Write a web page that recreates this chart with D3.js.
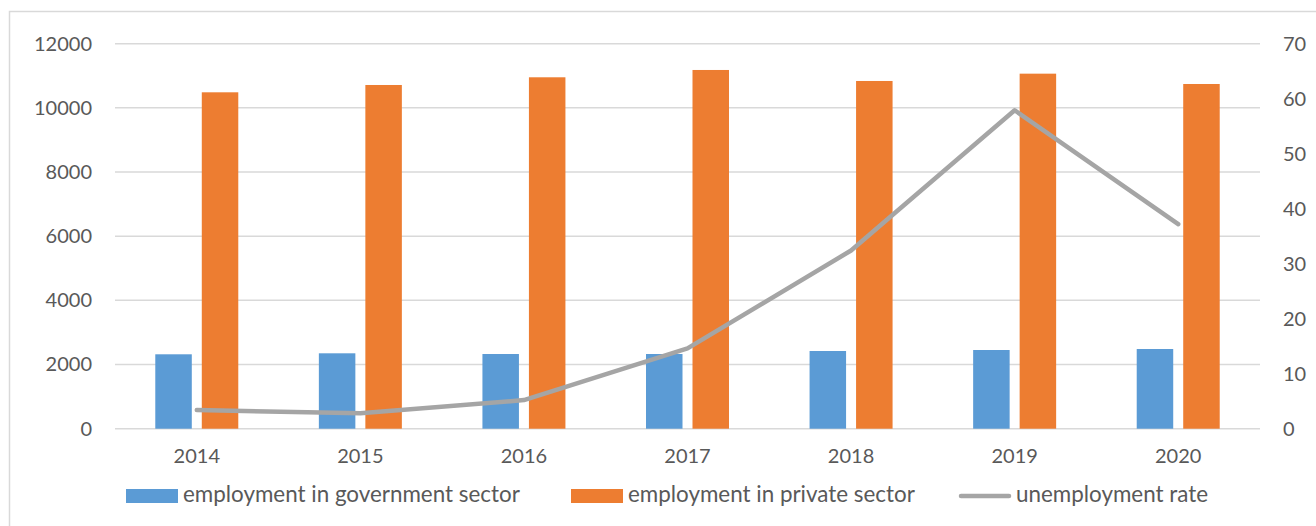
<!DOCTYPE html>
<html>
<head>
<meta charset="utf-8">
<script src="https://cdn.jsdelivr.net/npm/d3@7"></script>
<style>
    body { margin: 0; background: #fff; }
    text { font-family: Lato, "Open Sans", sans-serif; fill: #595959; }
</style>
</head>
<body>
<svg width="1316" height="526"></svg>
<script>
const years = ["2014", "2015", "2016", "2017", "2018", "2019", "2020"]
const gov_sector = [2319, 2350, 2328, 2328, 2422, 2453, 2484]
const private_sector = [10485, 10713, 10953, 11181, 10838, 11066, 10744]
const unemployment_rate = [3.4, 2.8, 5.2, 14.6, 32.4, 57.9, 37.2]
const left_ticks = [0, 2000, 4000, 6000, 8000, 10000, 12000]
const right_ticks = [0, 10, 20, 30, 40, 50, 60, 70]

const series_names = ["employment in government sector", "employment in private sector", "unemployment rate"]
const colors = ["#5b9bd5", "#ed7d31", "#a5a5a5"]

const plot_left = 115
const plot_right = 1260
const plot_top = 43.7
const plot_bottom = 428.7
const font_size = 20
const legend_font_size = 22.4

var svg = d3.select("svg")

// outer chart border
svg.append("rect")
    .attr("x", 9.5)
    .attr("y", 11.5)
    .attr("width", 1400)
    .attr("height", 600)
    .attr("fill", "none")
    .attr("stroke", "#d9d9d9")
    .attr("stroke-width", 1.5)

const x0 = d3.scaleBand().domain(years).range([plot_left, plot_right])
const half = 41.5
const x1 = d3.scaleBand().domain(["gov", "private"]).range([0, 2 * half]).paddingInner(0.215)
const y_left = d3.scaleLinear().domain([0, 12000]).range([plot_bottom, plot_top])
const y_right = d3.scaleLinear().domain([0, 70]).range([plot_bottom, plot_top])

const center = year => x0(year) + x0.bandwidth() / 2

// gridlines
svg.append("g")
    .selectAll("line")
    .data(left_ticks)
    .enter()
    .append("line")
    .attr("x1", plot_left)
    .attr("x2", plot_right)
    .attr("y1", d => y_left(d))
    .attr("y2", d => y_left(d))
    .attr("stroke", "#d9d9d9")
    .attr("stroke-width", 1.5)

// left axis labels
svg.append("g")
    .attr("transform", `translate(${plot_left},0)`)
    .call(d3.axisLeft(y_left).tickValues(left_ticks).tickSize(0).tickPadding(23).tickFormat(d3.format("d")))
    .call(g => g.select(".domain").remove())
    .selectAll("text")
    .attr("font-size", font_size)
    .attr("font-family", "Lato")
    .attr("fill", "#595959")

// right axis labels
svg.append("g")
    .attr("transform", `translate(${plot_right},0)`)
    .call(d3.axisRight(y_right).tickValues(right_ticks).tickSize(0).tickPadding(23))
    .call(g => g.select(".domain").remove())
    .selectAll("text")
    .attr("font-size", font_size)
    .attr("font-family", "Lato")
    .attr("fill", "#595959")

// x axis labels
svg.append("g")
    .attr("transform", `translate(0,${plot_bottom})`)
    .call(d3.axisBottom(x0).tickSize(0).tickPadding(20))
    .call(g => g.select(".domain").remove())
    .selectAll("text")
    .attr("font-size", font_size)
    .attr("font-family", "Lato")
    .attr("fill", "#595959")

// bars
const bars = svg.append("g")
bars.selectAll("rect.gov")
    .data(years)
    .enter()
    .append("rect")
    .attr("class", "gov")
    .attr("x", (d, i) => center(d) - half + x1("gov"))
    .attr("width", x1.bandwidth())
    .attr("y", (d, i) => y_left(gov_sector[i]))
    .attr("height", (d, i) => plot_bottom - y_left(gov_sector[i]))
    .attr("fill", colors[0])

bars.selectAll("rect.private")
    .data(years)
    .enter()
    .append("rect")
    .attr("class", "private")
    .attr("x", (d, i) => center(d) - half + x1("private"))
    .attr("width", x1.bandwidth())
    .attr("y", (d, i) => y_left(private_sector[i]))
    .attr("height", (d, i) => plot_bottom - y_left(private_sector[i]))
    .attr("fill", colors[1])

// unemployment line
const line = d3.line()
    .x((d, i) => center(years[i]))
    .y(d => y_right(d))

svg.append("path")
    .datum(unemployment_rate)
    .attr("d", line)
    .attr("fill", "none")
    .attr("stroke", colors[2])
    .attr("stroke-width", 4.5)
    .attr("stroke-linecap", "round")
    .attr("stroke-linejoin", "round")

// legend
const legend_x = [126, 571, 959]
const legend = svg.append("g")
legend_x.forEach((lx, i) => {
    if (i < 2) {
        legend.append("rect")
            .attr("x", lx)
            .attr("y", 489)
            .attr("width", 52)
            .attr("height", 14)
            .attr("fill", colors[i])
    } else {
        legend.append("line")
            .attr("x1", lx + 2)
            .attr("x2", lx + 50)
            .attr("y1", 496)
            .attr("y2", 496)
            .attr("stroke", colors[i])
            .attr("stroke-width", 4.5)
            .attr("stroke-linecap", "round")
    }
    legend.append("text")
        .attr("x", lx + 57)
        .attr("y", 502)
        .attr("font-size", legend_font_size)
        .text(series_names[i])
})
</script>
</body>
</html>
